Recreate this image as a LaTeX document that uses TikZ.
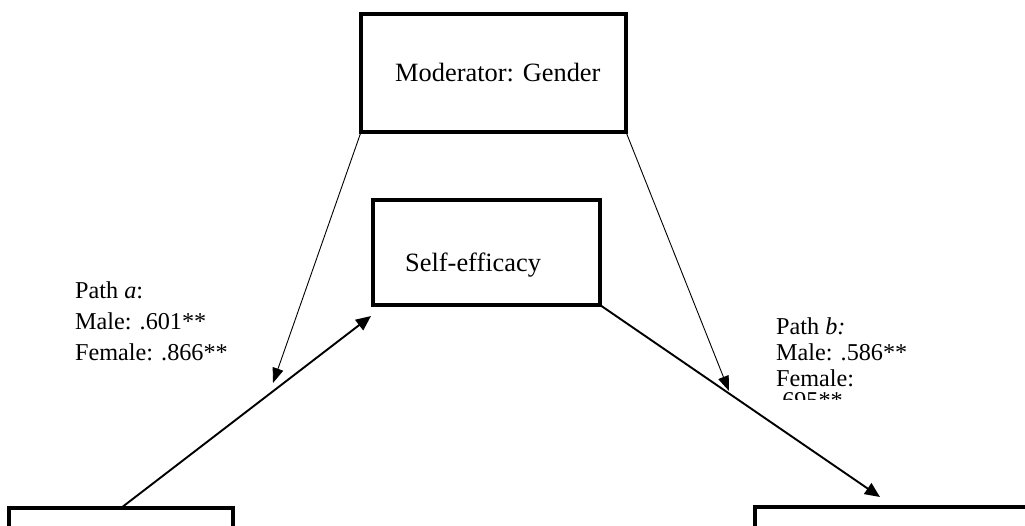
\documentclass[tikz,border=0pt]{standalone}
\usepackage{fontspec}
\setmainfont{Liberation Serif}
\usetikzlibrary{arrows.meta}
\begin{document}
\begin{tikzpicture}[x=1pt,y=-1pt,
  box/.style={draw, line width=4pt, inner sep=0pt, outer sep=0pt},
  thickarrow/.style={line width=1.9pt, -{Triangle[length=15pt,width=13pt]}},
  thinarrow/.style={line width=0.9pt, -{Triangle[length=15pt,width=11pt]}},
  boxtext/.style={anchor=base west, inner sep=0pt, font=\fontsize{26.4}{30}\selectfont},
  lbl/.style={anchor=base west, inner sep=0pt, font=\fontsize{24.2}{28}\selectfont}
]
\useasboundingbox (0,0) rectangle (1025,526);
\clip (0,0) rectangle (1025,526);
\fill[white] (0,0) rectangle (1025,526);

% boxes
\node[box, minimum width=265pt, minimum height=118pt] (mod) at (493.5,73) {};
\node[box, minimum width=227pt, minimum height=105pt] (se) at (486.5,252.5) {};
\node[box, minimum width=224pt, minimum height=112pt] (iv) at (121,564) {};
\node[box, minimum width=375pt, minimum height=112pt] (dv) at (942.5,563) {};

% box texts
\node[boxtext] (modt) at (395,82) {Moderator: Gender};
\node[boxtext] (set) at (405,272) {Self-efficacy};

% arrow end points
\coordinate (ta) at (371,316);
\coordinate (tb) at (880,497);
\coordinate (tm1) at (273,383);
\coordinate (tm2) at (729,391);

\draw[thickarrow] (iv.north) -- (ta);
\draw[thickarrow] (se.south east) -- (tb);
\draw[thinarrow] (mod.south west) -- (tm1);
\draw[thinarrow] (mod.south east) -- (tm2);

% path a label
\node[lbl] (pa1) at (75,299) {Path \textit{a}:};
\node[lbl] (pa2) at (75,330) {Male: .601**};
\node[lbl] (pa3) at (75,361) {Female: .866**};

% path b label
\node[lbl] (pb1) at (776,335) {Path \textit{b:}};
\node[lbl] (pb2) at (776,361) {Male: .586**};
\node[lbl] (pb3) at (776,386) {Female:};
\begin{scope}
\clip (770,391.5) rectangle (940,399);
\node[lbl] (pb4) at (776,408) {.695**};
\end{scope}
\end{tikzpicture}
\end{document}
